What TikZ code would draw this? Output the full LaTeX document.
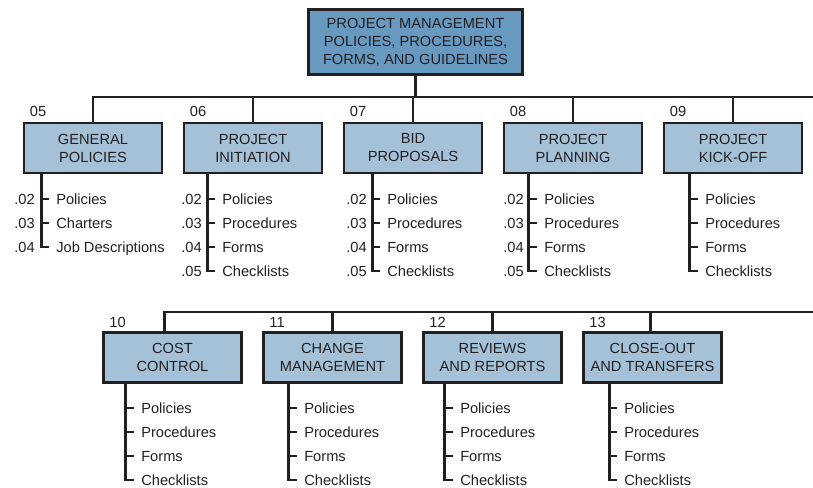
\documentclass[tikz,border=0pt]{standalone}
\usepackage{fontspec}
\setmainfont{Liberation Sans}
\usetikzlibrary{positioning,calc}
\definecolor{headblue}{RGB}{104,153,193}
\definecolor{unitblue}{RGB}{164,193,216}
\definecolor{ink}{RGB}{35,31,32}

\begin{document}
\begin{tikzpicture}[x=0.75pt,y=-0.75pt, font=\fontsize{11}{13.5}\selectfont, text=ink,
  head/.style={draw=ink,line width=2pt,fill=headblue,minimum width=160.5pt,minimum height=48.75pt,align=center,inner sep=0},
  unit/.style={draw=ink,line width=2pt,fill=unitblue,minimum width=103.5pt,minimum height=37.5pt,align=center,inner sep=0},
  wire/.style={draw=ink,line width=2pt},
  num/.style={anchor=base west,inner sep=0},
  item/.style={anchor=west,inner ysep=0,inner xsep=5.25pt,text height=7.8pt,text depth=0pt},
  code/.style={anchor=east,inner sep=0,text height=7.8pt,text depth=0pt}]
  \useasboundingbox (0,0) rectangle (813,488);

  % top box and the two buses
  \node[head](head) at (415.5,42){PROJECT MANAGEMENT\\POLICIES, PROCEDURES,\\FORMS, AND GUIDELINES};
  \coordinate(bus1) at (813,97);
  \coordinate(bus2) at (813,312);

  % first row
  \node[unit](gen) at (93,148){GENERAL\\POLICIES};
  \node[unit](init) at (253,148){PROJECT\\INITIATION};
  \node[unit](bid) at (413,148){BID\\PROPOSALS};
  \node[unit](plan) at (573,148){PROJECT\\PLANNING};
  \node[unit](kick) at (733,148){PROJECT\\KICK-OFF};
  \foreach \b/\n in {gen/05,init/06,bid/07,plan/08,kick/09}
    \node[num] at ($(\b.north west)+(7,-5)$){\n};

  % second row
  \node[unit](cost) at (172.5,357.5){COST\\CONTROL};
  \node[unit](change) at (332.5,357.5){CHANGE\\MANAGEMENT};
  \node[unit](review) at (492.5,357.5){REVIEWS\\AND REPORTS};
  \node[unit](close) at (652.5,357.5){CLOSE-OUT\\AND TRANSFERS};
  \foreach \b/\n in {cost/10,change/11,review/12,close/13}
    \node[num] at ($(\b.north west)+(7,-4)$){\n};

  \draw[wire](head.south)--(head.south |- bus1);
  \draw[wire](gen.north)|-(bus1);
  \foreach \b in {init,bid,plan,kick}\draw[wire](\b.north)--(\b.north |- bus1);
  \draw[wire]([xshift=-6pt]cost.north)|-(bus2);
  \foreach \b in {change,review}\draw[wire](\b.north)--(\b.north |- bus2);
  \draw[wire]([xshift=-1.5pt]close.north)--([xshift=-1.5pt]close.north |- bus2);

  % sub items, first row
  \foreach \c/\t [count=\i] in {.02/Policies,.03/Charters,.04/Job Descriptions}{
    \node[item](gen-\i) at (49,175+24*\i){\t};
    \node[code] at ($(gen-\i.west)+(-14,0)$){\c};
    \draw[wire](gen-\i.west)--++(-7,0);}
  \draw[wire](gen.south west)++(19,0)|-(gen-3.west);
  \foreach \c/\t [count=\i] in {.02/Policies,.03/Procedures,.04/Forms,.05/Checklists}{
    \node[item](init-\i) at (215,175+24*\i){\t};
    \node[code] at ($(init-\i.west)+(-13,0)$){\c};
    \draw[wire](init-\i.west)--++(-7,0);}
  \draw[wire](init.south west)++(25,0)|-(init-4.west);
  \foreach \c/\t [count=\i] in {.02/Policies,.03/Procedures,.04/Forms,.05/Checklists}{
    \node[item](bid-\i) at (380,175+24*\i){\t};
    \node[code] at ($(bid-\i.west)+(-13,0)$){\c};
    \draw[wire](bid-\i.west)--++(-7,0);}
  \draw[wire](bid.south west)++(30,0)|-(bid-4.west);
  \foreach \c/\t [count=\i] in {.02/Policies,.03/Procedures,.04/Forms,.05/Checklists}{
    \node[item](plan-\i) at (537,175+24*\i){\t};
    \node[code] at ($(plan-\i.west)+(-13,0)$){\c};
    \draw[wire](plan-\i.west)--++(-7,0);}
  \draw[wire](plan.south west)++(26,0)|-(plan-4.west);
  \foreach \t [count=\i] in {Policies,Procedures,Forms,Checklists}{
    \node[item](kick-\i) at (698,175+24*\i){\t};
    \draw[wire](kick-\i.west)--++(-7,0);}
  \draw[wire](kick.south west)++(27,0)|-(kick-4.west);

  % sub items, second row
  \foreach \b/\x/\d in {cost/134/23,change/297/26,review/453/22,close/617/27}{
    \foreach \t [count=\i] in {Policies,Procedures,Forms,Checklists}{
      \node[item](\b-\i) at (\x,384+24*\i){\t};
      \draw[wire](\b-\i.west)--++(-7,0);}
    \draw[wire](\b.south west)++(\d,0)|-(\b-4.west);}
\end{tikzpicture}
\end{document}
